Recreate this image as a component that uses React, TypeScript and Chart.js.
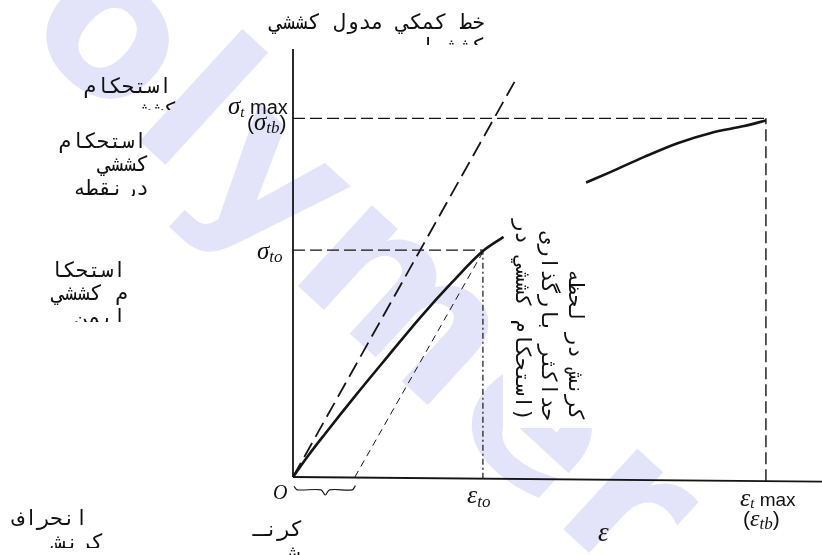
import { useEffect, useRef } from "react";
import { Chart, registerables } from "chart.js";
Chart.register(...registerables);

// ---- data (strain ε on x, stress σ on y, arbitrary units 0..100) ----
const strainLoading = [0, 3, 6, 12, 18, 24, 30, 35.9, 39.8];
const stressLoading = [0, 5.2, 10, 19.3, 28.3, 37.2, 45.4, 52.8, 56.1];
const strainUpper = [55.4, 60.1, 66.4, 72.7, 79.0, 85.3, 89.4];
const stressUpper = [68.8, 71.3, 74.8, 78.0, 80.4, 82.0, 83.3];
const tangentStrain = [0, 42.5];
const tangentStress = [0, 93.7];
const offsetStrain = [11.7, 35.9];
const offsetStress = [0, 52.6];
const epsTo = 35.9;
const epsTmax = 89.4;
const sigTo = 53.0;
const sigTmax = 83.8;
const axisStrain = [0, 100];
const axisStress = [0, -1.1];
const yAxisStress = [0, 100];
const braceStrain = [0.2, 0.8, 5.3, 6.1, 6.9, 11.2, 11.8];
const braceStress = [-2.2, -3.0, -3.0, -4.2, -3.0, -3.0, -2.0];

// ---- Persian text blocks ----
const persianLines = [
  { t: "خط کمکي مدول کششي", r: 485, b: 29 },
  { t: "کشش ا", r: 485, b: 53, clip: 45 },
  { t: "استحکام", r: 172, b: 93 },
  { t: "کششي", r: 177, b: 117, clip: 110 },
  { t: "استحکام", r: 147, b: 148 },
  { t: "کششي", r: 149, b: 171 },
  { t: "درنقطه", r: 149, b: 195, clip: 196 },
  { t: "استحکا", r: 126, b: 277 },
  { t: "م کششي", r: 128, b: 300 },
  { t: "ایمن", r: 126, b: 324, clip: 322 },
  { t: "انحراف", r: 88, b: 525 },
  { t: "کرنش", r: 104, b: 549, clip: 548 },
  { t: "کرنـ", r: 303, b: 536 },
  { t: "ش", r: 300, b: 560 },
];
const verticalLines = [
  { t: "کرنش در لحظه", x: 569 },
  { t: "حداکثر بارگذاری", x: 542 },
  { t: "(استحکام کششي در", x: 516 },
];

type Part = [string, string, number];
const serifI = (s: number) => `italic ${s}px "Liberation Serif"`;
const sans = (s: number) => `${s}px "Liberation Sans"`;
const mathLabels: { x: number; y: number; parts: Part[] }[] = [
  { x: 228, y: 114, parts: [["σ", serifI(25), 0], ["t", serifI(15), 3], [" max", sans(20), 0]] },
  { x: 247, y: 130, parts: [["(", sans(21), 0], ["σ", serifI(25), 0], ["tb", serifI(17), 3], [")", sans(21), 0]] },
  { x: 257, y: 259, parts: [["σ", serifI(25), 0], ["to", serifI(17), 3]] },
  { x: 273, y: 499, parts: [["O", serifI(20), 0]] },
  { x: 467, y: 503, parts: [["ε", serifI(26), 0], ["to", serifI(17), 4]] },
  { x: 740, y: 506, parts: [["ε", serifI(26), 0], ["t", serifI(15), 2], [" max", sans(19), 0]] },
  { x: 743, y: 526, parts: [["(", sans(21), 0], ["ε", serifI(24), 0], ["tb", serifI(17), 3], [")", sans(21), 0]] },
  { x: 598, y: 541, parts: [["ε", serifI(27), 0]] },
];

const pts = (xs: number[], ys: number[]) => xs.map((x, i) => ({ x, y: ys[i] }));

const watermark = {
  id: "watermark",
  beforeDatasetsDraw(chart: any) {
    const ctx = chart.ctx;
    ctx.save();
    ctx.translate(-94, -73);
    ctx.rotate((42.5 * Math.PI) / 180);
    ctx.font = 'bold 200px "DejaVu Sans"';
    (ctx as any).letterSpacing = "8px";
    ctx.fillStyle = "#e3e3f9";
    ctx.textAlign = "left";
    ctx.textBaseline = "alphabetic";
    ctx.fillText("Polymer", 0, 0);
    ctx.restore();
    // white background of the rotated text box
    ctx.save();
    ctx.fillStyle = "#ffffff";
    ctx.fillRect(503, 183, 90, 245);
    ctx.restore();
  },
};

const labels = {
  id: "labels",
  afterDatasetsDraw(chart: any) {
    const ctx = chart.ctx;
    const W = chart.width;
    ctx.save();
    ctx.fillStyle = "#111";
    ctx.font = '21px "DejaVu Sans Mono"';
    (ctx as any).direction = "rtl";
    ctx.textAlign = "right";
    ctx.textBaseline = "alphabetic";
    for (const l of persianLines) {
      ctx.save();
      if (l.clip) {
        ctx.beginPath();
        ctx.rect(0, 0, W, l.clip);
        ctx.clip();
      }
      ctx.fillText(l.t, l.r, l.b);
      ctx.restore();
    }
    for (const v of verticalLines) {
      ctx.save();
      ctx.translate(v.x, 421);
      ctx.rotate(Math.PI / 2);
      ctx.fillText(v.t, 0, 0);
      ctx.restore();
    }
    (ctx as any).direction = "ltr";
    ctx.textAlign = "left";
    for (const m of mathLabels) {
      let x = m.x;
      for (const [s, f, dy] of m.parts) {
        ctx.font = f;
        ctx.fillText(s, x, m.y + dy);
        x += ctx.measureText(s).width;
      }
    }
    ctx.restore();
  },
};

export default function App() {
  const ref = useRef<HTMLCanvasElement | null>(null);
  useEffect(() => {
    if (!ref.current) return;
    const black = "#151515";
    const base = { showLine: true, pointRadius: 0, fill: false, clip: false as any, borderColor: black };
    const chart = new Chart(ref.current, {
      type: "scatter",
      data: {
        datasets: [
          { ...base, data: pts(axisStrain, axisStress), borderWidth: 1.8 },
          { ...base, data: pts([0, 0], yAxisStress), borderWidth: 1.8 },
          { ...base, data: pts([0, epsTmax], [sigTmax, sigTmax]), borderWidth: 1.4, borderDash: [12, 5] },
          { ...base, data: pts([0, epsTo], [sigTo, sigTo]), borderWidth: 1.4, borderDash: [12, 5] },
          { ...base, data: pts([epsTmax, epsTmax], [-1, sigTmax]), borderWidth: 1.4, borderDash: [12, 5] },
          { ...base, data: pts([epsTo, epsTo], [-0.4, sigTo]), borderWidth: 1.2, borderDash: [6, 3, 2, 3] },
          { ...base, data: pts(tangentStrain, tangentStress), borderWidth: 1.8, borderDash: [16, 7] },
          { ...base, data: pts(offsetStrain, offsetStress), borderWidth: 1, borderDash: [7, 5] },
          { ...base, data: pts(strainLoading, stressLoading), borderWidth: 2.6, cubicInterpolationMode: "monotone" },
          { ...base, data: pts(strainUpper, stressUpper), borderWidth: 2.6, cubicInterpolationMode: "monotone" },
          { ...base, data: pts(braceStrain, braceStress), borderWidth: 1.2, tension: 0.3 },
        ] as any,
      },
      options: {
        animation: false,
        responsive: false,
        maintainAspectRatio: false,
        devicePixelRatio: 1,
        layout: { padding: { left: 293, right: 0, top: 49, bottom: 78 } },
        scales: {
          x: { type: "linear", min: 0, max: 100, display: false },
          y: { type: "linear", min: 0, max: 100, display: false },
        },
        plugins: { legend: { display: false }, tooltip: { enabled: false } },
      },
      plugins: [watermark, labels],
    });
    return () => chart.destroy();
  }, []);
  return (
    <div style={{ position: "fixed", left: 0, top: 0, width: 822, height: 555, background: "#fff" }}>
      <canvas ref={ref} width={822} height={555} />
    </div>
  );
}
